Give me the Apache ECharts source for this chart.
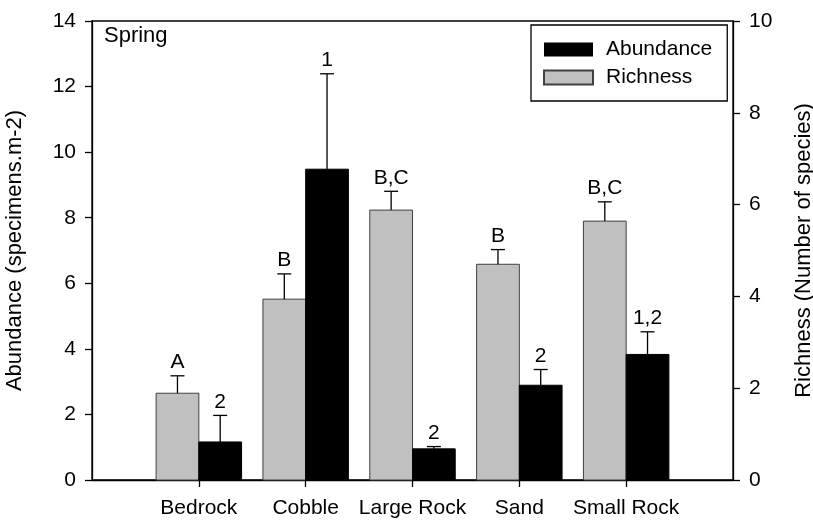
<!DOCTYPE html>
<html><head><meta charset="utf-8">
<script src="https://cdn.jsdelivr.net/npm/echarts@6/dist/echarts.min.js"></script>
<style>html,body{margin:0;padding:0;background:#fff}#c{width:813px;height:523px}</style>
</head><body><div id="c"></div>
<script>
const categories = ['Bedrock', 'Cobble', 'Large Rock', 'Sand', 'Small Rock'];
const abundance = [1.16, 9.48, 0.95, 2.89, 3.83];
const abundanceSE = [0.81, 2.91, 0.07, 0.48, 0.69];
const abundanceLetters = ['2', '1', '2', '2', '1,2'];
const richness = [1.89, 3.94, 5.88, 4.70, 5.64];
const richnessSE = [0.38, 0.55, 0.41, 0.32, 0.42];
const richnessLetters = ['A', 'B', 'B,C', 'B', 'B,C'];
const leftTicks = {min: 0, max: 14, interval: 2};
const rightTicks = {min: 0, max: 10, interval: 2};

const FONT = 'Liberation Sans, Arial, sans-serif';
const axisCats = [''].concat(categories, ['']);

function makeRender(side, letters, fill, stroke) {
  return function (params, api) {
    const x = api.value(0), v = api.value(1), e = api.value(2);
    const p0 = api.coord([x, 0]);
    const p1 = api.coord([x, v]);
    const pe = api.coord([x, v + e]);
    const w = api.size([1, 0])[0] * 0.4;
    const left = side < 0 ? p0[0] - w : p0[0];
    const cx = left + w / 2;
    const cap = 7;
    return {
      type: 'group',
      children: [
        {type: 'rect', shape: {x: left, y: p1[1], width: w, height: p0[1] - p1[1]},
         style: {fill: fill, stroke: stroke, lineWidth: 1}},
        {type: 'line', shape: {x1: cx, y1: p1[1], x2: cx, y2: pe[1]},
         style: {stroke: '#000', lineWidth: 1.3}},
        {type: 'line', shape: {x1: cx - cap, y1: pe[1], x2: cx + cap, y2: pe[1]},
         style: {stroke: '#000', lineWidth: 1.3}},
        {type: 'text', x: cx, y: pe[1] - 3,
         style: {text: letters[params.dataIndex], fill: '#000', font: '21px ' + FONT,
                 textAlign: 'center', textVerticalAlign: 'bottom'}}
      ]
    };
  };
}

const chart = echarts.init(document.getElementById('c'));
chart.setOption({
  animation: false,
  grid: {left: 92, right: 80, top: 21, bottom: 43, show: true, borderColor: '#000', borderWidth: 1.3,
         containLabel: false, outerBoundsMode: 'none'},
  xAxis: {
    type: 'category', data: axisCats, boundaryGap: false,
    axisLine: {lineStyle: {color: '#000', width: 1.3}},
    axisTick: {length: 7, lineStyle: {color: '#000', width: 1.3},
               interval: function (i, v) { return v !== ''; }},
    axisLabel: {color: '#000', fontSize: 21, fontFamily: FONT, margin: 18, interval: 0},
    splitLine: {show: false}
  },
  yAxis: [
    {type: 'value', min: leftTicks.min, max: leftTicks.max, interval: leftTicks.interval,
     name: 'Abundance (specimens.m-2)', nameLocation: 'middle', nameGap: 66, nameRotate: 90,
     nameTextStyle: {color: '#000', fontSize: 22, fontFamily: FONT},
     axisLine: {show: true, lineStyle: {color: '#000', width: 1.3}},
     axisTick: {show: true, length: 7, lineStyle: {color: '#000', width: 1.3}},
     axisLabel: {color: '#000', fontSize: 21, fontFamily: FONT, margin: 16},
     splitLine: {show: false}},
    {type: 'value', min: rightTicks.min, max: rightTicks.max, interval: rightTicks.interval,
     position: 'right',
     name: 'Richness (Number of species)', nameLocation: 'middle', nameGap: 60, nameRotate: 90,
     nameTextStyle: {color: '#000', fontSize: 22, fontFamily: FONT},
     axisLine: {show: true, lineStyle: {color: '#000', width: 1.3}},
     axisTick: {show: true, length: 7, lineStyle: {color: '#000', width: 1.3}},
     axisLabel: {color: '#000', fontSize: 21, fontFamily: FONT, margin: 16},
     splitLine: {show: false}}
  ],
  legend: {
    data: ['Abundance', 'Richness'], orient: 'vertical', left: 531, top: 25,
    backgroundColor: '#fff', borderColor: '#000', borderWidth: 1.3,
    padding: [14, 15, 13, 12], itemGap: 7, itemWidth: 49, itemHeight: 14,
    icon: 'rect',
    textStyle: {color: '#000', fontSize: 21, fontFamily: FONT, padding: [0, 0, 0, 8]}
  },
  graphic: [
    {type: 'text', left: 104, top: 25,
     style: {text: 'Spring', fill: '#000', font: '22px ' + FONT}}
  ],
  series: [
    {name: 'Richness', type: 'custom', yAxisIndex: 1,
     itemStyle: {color: '#c0c0c0', borderColor: '#404040', borderWidth: 1},
     renderItem: makeRender(-1, richnessLetters, '#c0c0c0', '#404040'),
     data: richness.map((v, i) => [i + 1, v, richnessSE[i]])},
    {name: 'Abundance', type: 'custom', yAxisIndex: 0,
     itemStyle: {color: '#000'},
     renderItem: makeRender(1, abundanceLetters, '#000', '#000'),
     data: abundance.map((v, i) => [i + 1, v, abundanceSE[i]])}
  ]
});
</script></body></html>
